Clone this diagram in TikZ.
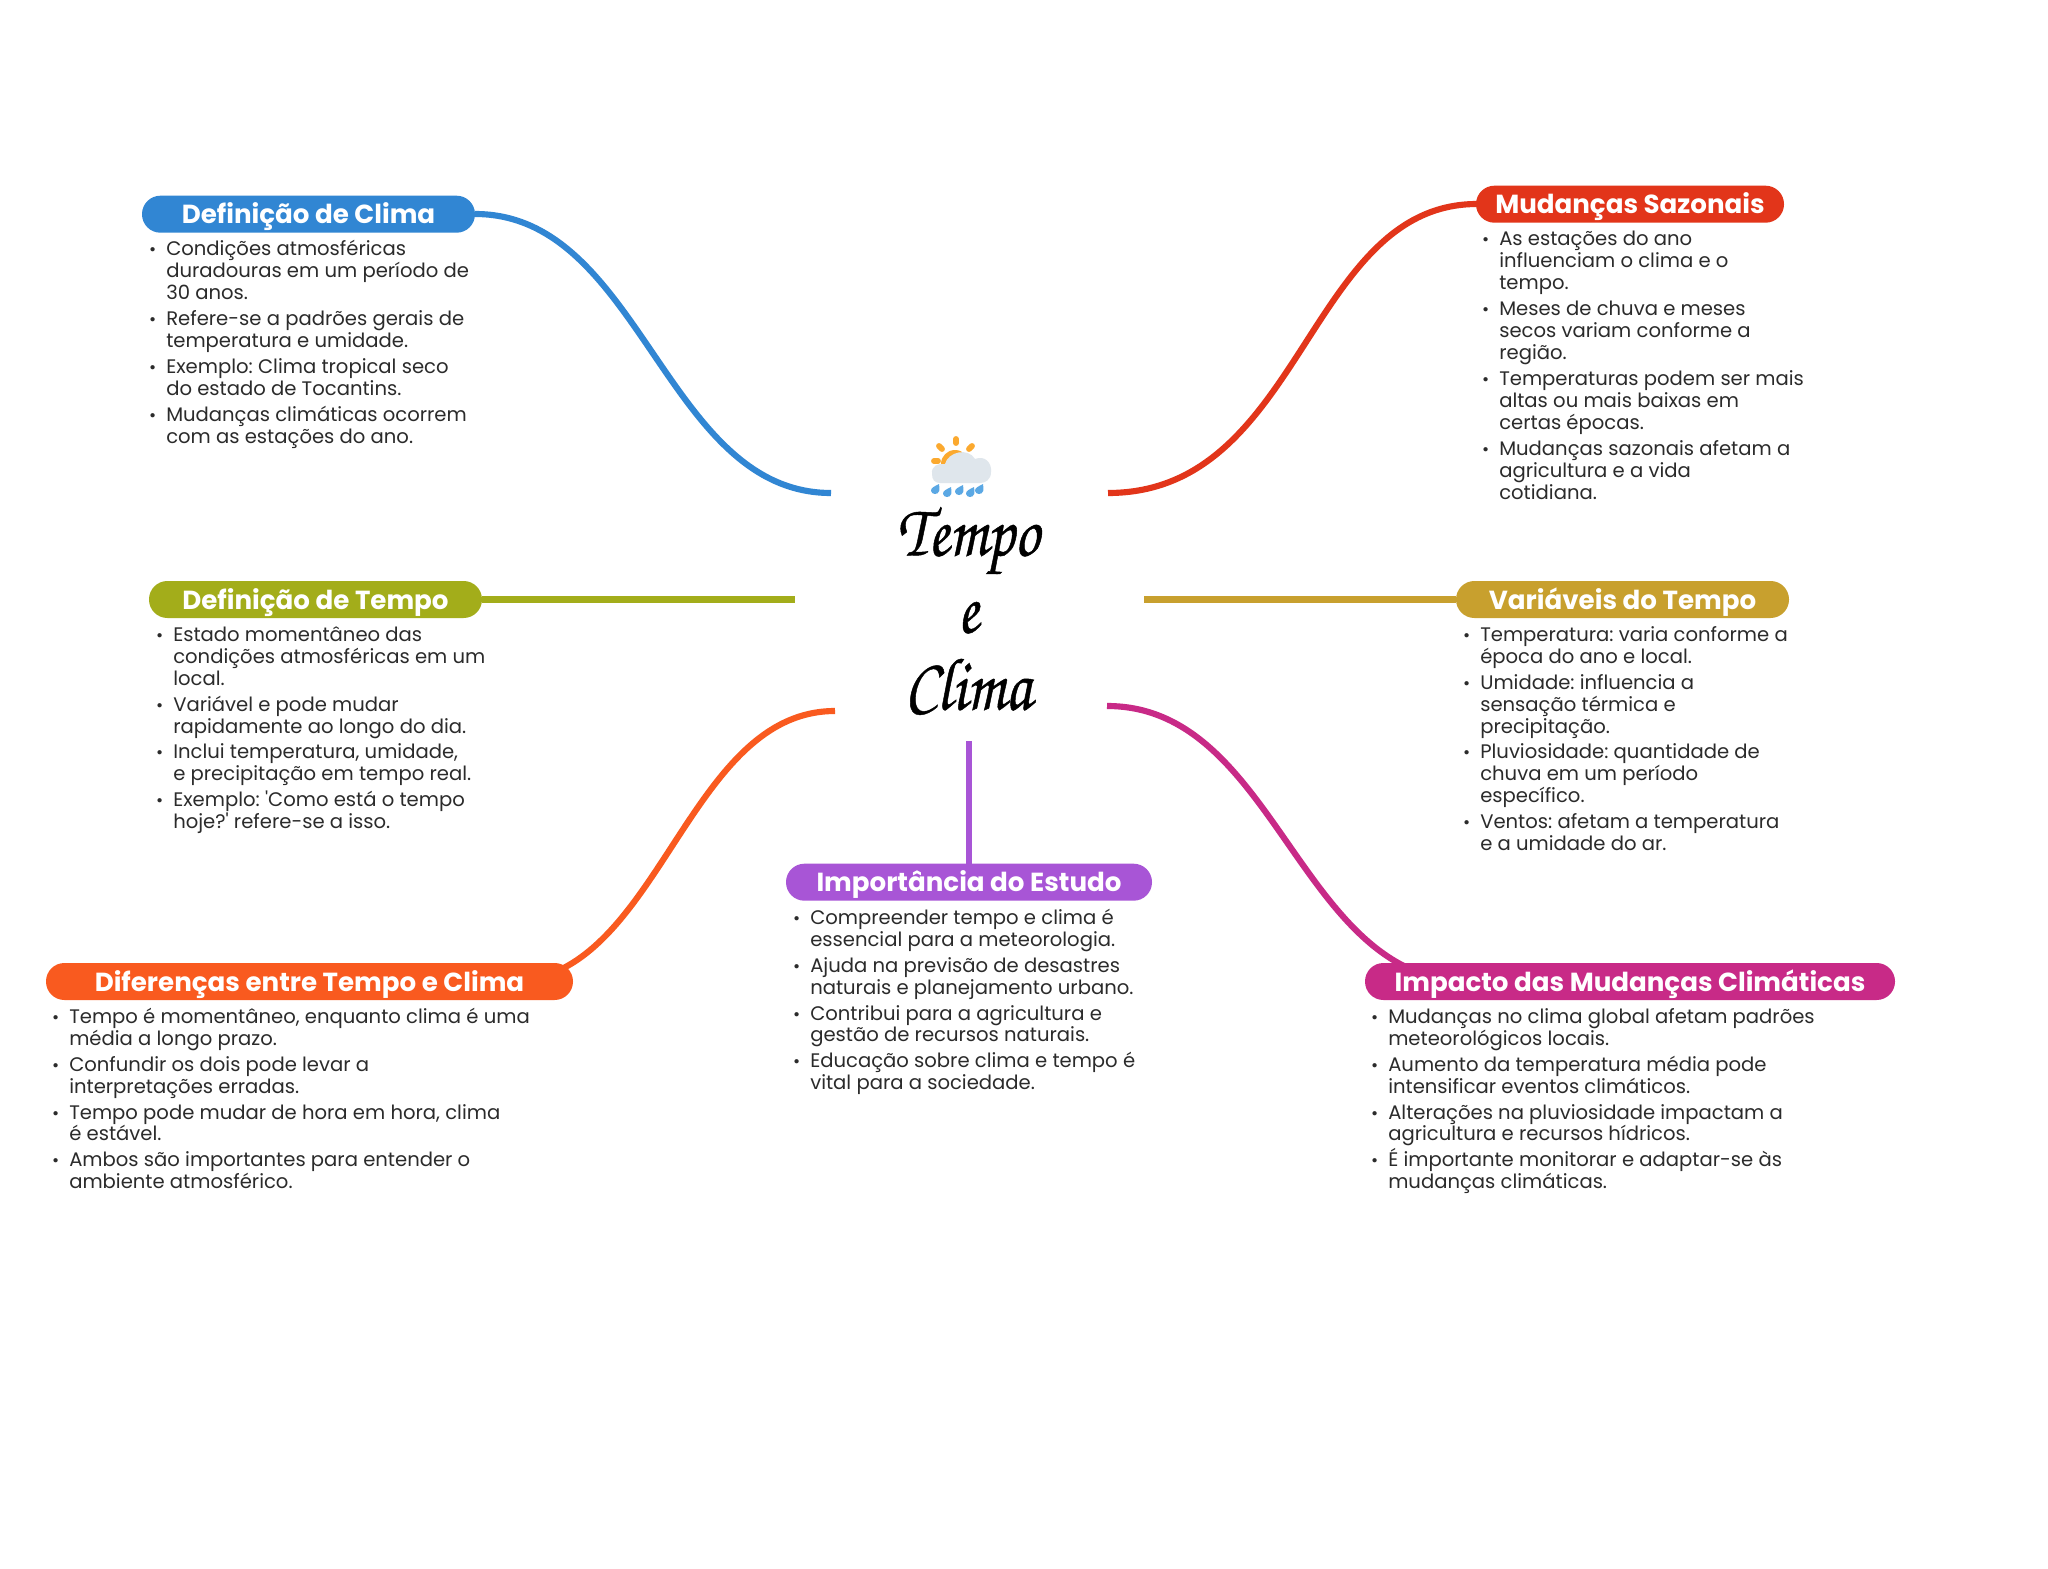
\documentclass[tikz,border=0pt]{standalone}
\usepackage{fontspec}
\setmainfont{Poppins}
\newfontfamily\plainquote{Poppins}
\newfontfamily\scriptfam[FakeStretch=0.83,FakeBold=0.6]{TeX Gyre Chorus}
\definecolor{cblue}{HTML}{3186D3}
\definecolor{cred}{HTML}{E2351A}
\definecolor{cgreen}{HTML}{A3AD1A}
\definecolor{cgold}{HTML}{C8A02E}
\definecolor{corange}{HTML}{F95A1F}
\definecolor{cmagenta}{HTML}{C82A87}
\definecolor{cpurple}{HTML}{A855D6}
\definecolor{ctext}{HTML}{2B2B2B}
\definecolor{csun}{HTML}{FBA92F}
\definecolor{ccloud}{HTML}{DFE6EC}
\definecolor{cdrop}{HTML}{5BA8E4}
\lineskiplimit=-40pt
\newcommand{\bodyfont}{\fontsize{14.7}{16.45}\selectfont\frenchspacing\lineskiplimit=-40pt\relax}
\newcommand{\titlefont}{\scriptfam\fontsize{56}{57.75}\selectfont\lineskiplimit=-40pt\relax}
\newcommand{\fl}{\rule{0pt}{12pt}}
\newcommand{\blt}{\llap{\fontsize{13}{13}\selectfont•\hspace{7.5pt}}}
\newcommand{\sq}{{\plainquote '}}
\tikzset{
  mmpill/.style={fill=#1,draw=none,rounded corners=13.8pt,minimum height=27.75pt,inner sep=0pt,text=white,text height=14.5pt,text depth=0.2pt,font=\fontsize{19.6}{24}\selectfont\bfseries},
  mmbody/.style={anchor=north west,inner sep=0pt,yshift=12pt,align=left,text=ctext,font=\bodyfont},
  mmlink/.style={line width=4.6pt,draw=#1},
}
\begin{document}
\begin{tikzpicture}[x=0.75pt,y=-0.75pt]
\useasboundingbox[fill=white] (0,0) rectangle (2048,1569);
% connector ends
\coordinate (hubBlue) at (831,493);
\coordinate (hubRed) at (1108,493);
\coordinate (hubGreen) at (795,599.5);
\coordinate (hubGold) at (1144,599.5);
\coordinate (hubOrange) at (835,711);
\coordinate (hubMagenta) at (1107,706);
\coordinate (hubPurple) at (969,741);
\coordinate (pClimaE) at (475,214);
\coordinate (pSazW) at (1477,204);
\coordinate (pTempoE) at (482,599.5);
\coordinate (pVarW) at (1456,599.5);
\coordinate (pDifE) at (509,981.5);
\coordinate (pImcW) at (1469,981.5);
\coordinate (pImpN) at (969,864);
\draw[mmlink=cblue] (pClimaE) .. controls (641,214) and (665,493) .. (hubBlue);
\draw[mmlink=cred] (pSazW) .. controls (1307,204) and (1303,493) .. (hubRed);
\draw[mmlink=cgreen] (pTempoE) -- (hubGreen);
\draw[mmlink=cgold] (pVarW) -- (hubGold);
\draw[mmlink=corange] (pDifE) .. controls (659,981.5) and (685,711) .. (hubOrange);
\draw[mmlink=cmagenta] (hubMagenta) .. controls (1277,706) and (1299,981.5) .. (pImcW);
\draw[mmlink=cpurple] (hubPurple) -- (pImpN);
% pills
\node[mmpill=cblue,minimum width=249.75pt] (clima) at (308.5,214.2) {Definição de Clima};
\node[mmpill=cred,minimum width=231pt] (saz) at (1630,204.2) {Mudanças Sazonais};
\node[mmpill=cgold,minimum width=249.75pt] (var) at (1622.5,599.5) {Variáveis do Tempo};
\node[mmpill=cgreen,minimum width=249.75pt] (tempo) at (315.5,599.5) {Definição de Tempo};
\node[mmpill=corange,minimum width=395.25pt] (dif) at (309.5,981.5) {Diferenças entre Tempo e Clima};
\node[mmpill=cpurple,minimum width=274.5pt] (imp) at (969,882.2) {Importância do Estudo};
\node[mmpill=cmagenta,minimum width=397.5pt] (imc) at (1630,981.5) {Impacto das Mudanças Climáticas};
% bodies
\node[mmbody] (bclima) at (166,255.5) {\fl\blt Condições atmosféricas\\duradouras em um período de\\30 anos.\\[3pt]
\blt Refere-se a padrões gerais de\\temperatura e umidade.\\[3pt]
\blt Exemplo: Clima tropical seco\\do estado de Tocantins.\\[3pt]
\blt Mudanças climáticas ocorrem\\com as estações do ano.};
\node[mmbody] (bsaz) at (1499,245.5) {\fl\blt As estações do ano\\influenciam o clima e o\\tempo.\\[3pt]
\blt Meses de chuva e meses\\secos variam conforme a\\região.\\[3pt]
\blt Temperaturas podem ser mais\\altas ou mais baixas em\\certas épocas.\\[3pt]
\blt Mudanças sazonais afetam a\\agricultura e a vida\\cotidiana.};
\node[mmbody] (bvar) at (1480,641) {\fl\blt Temperatura: varia conforme a\\época do ano e local.\\[3pt]
\blt Umidade: influencia a\\sensação térmica e\\precipitação.\\[3pt]
\blt Pluviosidade: quantidade de\\chuva em um período\\específico.\\[3pt]
\blt Ventos: afetam a temperatura\\e a umidade do ar.};
\node[mmbody] (btempo) at (173,641) {\fl\blt Estado momentâneo das\\condições atmosféricas em um\\local.\\[3pt]
\blt Variável e pode mudar\\rapidamente ao longo do dia.\\[3pt]
\blt Inclui temperatura, umidade,\\e precipitação em tempo real.\\[3pt]
\blt Exemplo: \sq Como está o tempo\\hoje?\sq{} refere-se a isso.};
\node[mmbody] (bdif) at (69,1023) {\fl\blt Tempo é momentâneo, enquanto clima é uma\\média a longo prazo.\\[3pt]
\blt Confundir os dois pode levar a\\interpretações erradas.\\[3pt]
\blt Tempo pode mudar de hora em hora, clima\\é estável.\\[3pt]
\blt Ambos são importantes para entender o\\ambiente atmosférico.};
\node[mmbody] (bimp) at (810,924) {\fl\blt Compreender tempo e clima é\\essencial para a meteorologia.\\[3pt]
\blt Ajuda na previsão de desastres\\naturais e planejamento urbano.\\[3pt]
\blt Contribui para a agricultura e\\gestão de recursos naturais.\\[3pt]
\blt Educação sobre clima e tempo é\\vital para a sociedade.};
\node[mmbody] (bimc) at (1388,1023) {\fl\blt Mudanças no clima global afetam padrões\\meteorológicos locais.\\[3pt]
\blt Aumento da temperatura média pode\\intensificar eventos climáticos.\\[3pt]
\blt Alterações na pluviosidade impactam a\\agricultura e recursos hídricos.\\[3pt]
\blt É importante monitorar e adaptar-se às\\mudanças climáticas.};
% title
\node[inner sep=0pt,align=center,font=\titlefont] (title) at (968,611) {Tempo\\e\\Clima};
% icon
\foreach \a/\b/\c/\d in {956/439/956/443,939/446/942/449,972/446/969/449,934/461/938/461}
  \draw[line width=4.4pt,line cap=round,draw=csun] (\a,\b) -- (\c,\d);
\fill[csun] (955,464) circle[radius=14];
\fill[ccloud] (932,474) .. controls (931,466) and (938,463) .. (945,464) .. controls (948,452) and (968,447) .. (975,459) .. controls (985,455) and (992,463) .. (991,472) .. controls (991,480) and (985,483) .. (980,483) -- (940,483) .. controls (935,483) and (932,480) .. (932,474) -- cycle;
\foreach \a/\b in {935/490,947/493,959/491,970/493,979/490}
  \fill[cdrop,shift={(\a,\b)}] (4,-6) .. controls (4.5,-2) and (4.5,0) .. (4.2,1) .. controls (3,5) and (-3,5) .. (-4,1) .. controls (-4.5,-2) and (0,-4) .. (4,-6) -- cycle;
\end{tikzpicture}
\end{document}
